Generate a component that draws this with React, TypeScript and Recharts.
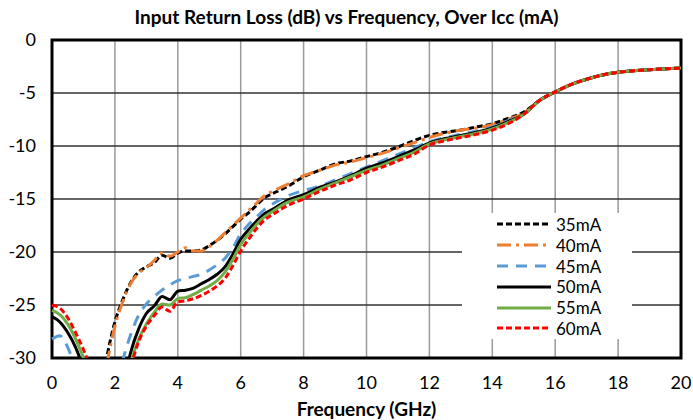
import { LineChart, Line, XAxis, YAxis, CartesianGrid, ReferenceArea, Label } from "recharts";

// frequency points (GHz)
const freqs = [
  0, 0.25, 0.5, 0.75, 1, 1.25, 1.5, 1.75, 2, 2.25, 2.5, 2.75, 3, 3.25, 3.5, 3.75, 4, 4.25, 4.5, 4.75,
  5, 5.25, 5.5, 5.75, 6, 6.25, 6.5, 6.75, 7, 7.5, 8, 8.5, 9, 9.5, 10, 10.5, 11, 11.5, 12, 12.5,
  13, 13.5, 14, 14.5, 15, 15.5, 16, 16.5, 17, 17.5, 18, 18.5, 19, 19.5, 20,
];

// shared high-frequency part (15.5 .. 20 GHz)
const tail = [-5.7, -4.9, -4.2, -3.7, -3.3, -3.05, -2.9, -2.8, -2.72, -2.65];

const ma35 = [
  -34, -36, -38, -40, -40, -38, -34, -29.8, -26.6, -24.5, -22.9, -21.9, -21.4, -21.0, -20.3, -20.6, -20.1, -19.9, -19.9, -19.8,
  -19.4, -18.9, -18.3, -17.6, -16.9, -16.3, -15.6, -14.9, -14.5, -13.8, -12.9, -12.3, -11.7, -11.4, -11.0, -10.6, -10.1, -9.5, -9.0, -8.7,
  -8.5, -8.2, -7.9, -7.4, -6.8, ...tail,
];
const ma40 = [
  -35, -37, -39, -41, -41, -39, -35, -30.5, -27.0, -24.7, -23.0, -22.0, -21.5, -20.8, -20.1, -20.4, -20.0, -19.6, -19.9, -19.9,
  -19.5, -18.9, -18.2, -17.5, -16.8, -16.1, -15.4, -14.7, -14.3, -13.6, -12.8, -12.3, -11.8, -11.5, -11.1, -10.7, -10.2, -9.7, -9.2, -8.8,
  -8.5, -8.3, -8.0, -7.5, -6.9, ...tail,
];
const ma45 = [
  -28.2, -27.9, -29.0, -31, -33, -36, -37, -36, -33, -30.2, -27.8, -26.0, -24.9, -24.2, -23.6, -23.1, -22.7, -22.5, -22.3, -22.1,
  -21.7, -21.2, -20.6, -19.6, -18.3, -17.4, -16.7, -16.0, -15.5, -14.7, -14.2, -13.8, -13.2, -12.6, -12.0, -11.4, -10.8, -10.2, -9.6, -9.2,
  -8.9, -8.6, -8.2, -7.6, -7.0, ...tail,
];
const ma50 = [
  -26.1, -26.6, -27.6, -29.0, -31, -33.5, -36, -38, -37, -33, -29.5, -27.3, -25.8, -25.1, -24.2, -24.5, -23.7, -23.6, -23.4, -23.0,
  -22.6, -22.1, -21.4, -20.2, -18.8, -17.9, -17.1, -16.4, -16.0, -15.1, -14.6, -13.9, -13.4, -12.8, -12.1, -11.6, -11.0, -10.4, -9.7, -9.3,
  -9.0, -8.7, -8.3, -7.7, -7.0, ...tail,
];
const ma55 = [
  -25.5, -25.9, -26.8, -28.2, -30.0, -32.3, -35, -37, -37, -34, -30.5, -28.3, -26.8, -25.7, -24.9, -25.0, -24.4, -24.3, -24.0, -23.6,
  -23.2, -22.7, -21.9, -20.7, -19.3, -18.3, -17.4, -16.7, -16.2, -15.3, -14.8, -14.1, -13.5, -12.9, -12.3, -11.8, -11.2, -10.6, -9.8, -9.4,
  -9.1, -8.8, -8.4, -7.8, -7.0, ...tail,
];
const ma60 = [
  -25.0, -25.3, -26.2, -27.6, -29.2, -31.2, -34, -36.5, -37, -35, -31, -28.5, -27.0, -26.0, -25.2, -25.6, -24.7, -24.6, -24.4, -24.1,
  -23.7, -23.2, -22.5, -21.3, -19.9, -18.8, -17.8, -17.0, -16.5, -15.6, -15.0, -14.3, -13.7, -13.2, -12.5, -12.0, -11.4, -10.8, -9.9, -9.5,
  -9.2, -8.9, -8.5, -7.9, -7.0, ...tail,
];

const xTicks = [0, 2, 4, 6, 8, 10, 12, 14, 16, 18, 20];
const yTicks = [0, -5, -10, -15, -20, -25, -30];

const series = [
  { key: "ma35", name: "35mA", values: ma35, color: "#000000", dash: "6 3" },
  { key: "ma40", name: "40mA", values: ma40, color: "#ED7D31", dash: "14 5 3 5" },
  { key: "ma45", name: "45mA", values: ma45, color: "#5B9BD5", dash: "11 8" },
  { key: "ma50", name: "50mA", values: ma50, color: "#000000", dash: undefined },
  { key: "ma55", name: "55mA", values: ma55, color: "#70AD47", dash: undefined },
  { key: "ma60", name: "60mA", values: ma60, color: "#FF0000", dash: "6 3" },
];

const data = freqs.map((f, i) => {
  const row: Record<string, number> = { f };
  series.forEach((s) => (row[s.key] = s.values[i]));
  return row;
});

const FONT = "Lato, 'Open Sans', sans-serif";

function LegendBox() {
  return (
    <div
      style={{
        position: "absolute",
        left: 462,
        top: 213,
        width: 170,
        height: 126,
        background: "#fff",
        paddingTop: 1,
        boxSizing: "border-box",
      }}
    >
      {series.map((s) => (
        <div key={s.key} style={{ display: "flex", alignItems: "center", height: 20.8 }}>
          <svg width={89} height={10}>
            <line x1={35} y1={5} x2={89} y2={5} stroke={s.color} strokeWidth={3} strokeDasharray={s.dash} />
          </svg>
          <span style={{ fontFamily: FONT, fontSize: 17, marginLeft: 5, color: "#000" }}>{s.name}</span>
        </div>
      ))}
    </div>
  );
}

export default function App() {
  return (
    <div style={{ position: "absolute", left: 0, top: 0, width: 693, height: 420, background: "#fff" }}>
      <div
        style={{
          position: "absolute",
          top: 5,
          width: 693,
          textAlign: "center",
          fontFamily: FONT,
          fontWeight: 700,
          fontSize: 19,
        }}
      >
        Input Return Loss (dB) vs Frequency, Over Icc (mA)
      </div>
      <LineChart width={693} height={420} data={data} margin={{ top: 40, right: 12, bottom: 4, left: 8 }}>
        <CartesianGrid horizontal={false} stroke="#9a9a9a" strokeWidth={1.5} />
        <CartesianGrid vertical={false} stroke="#333333" strokeWidth={1.5} />
        <XAxis
          dataKey="f"
          type="number"
          domain={[0, 20]}
          ticks={xTicks}
          height={58}
          tickLine={false}
          axisLine={false}
          tick={{ fill: "#000", fontSize: 18, fontFamily: FONT }}
          tickMargin={12}
        >
          <Label
            value="Frequency (GHz)"
            position="insideBottom"
            offset={0}
            style={{ fill: "#000", fontSize: 19, fontWeight: 700, fontFamily: FONT }}
          />
        </XAxis>
        <YAxis
          type="number"
          domain={[-30, 0]}
          ticks={yTicks}
          allowDataOverflow
          width={44}
          tickLine={false}
          axisLine={false}
          tick={{ fill: "#000", fontSize: 18, fontFamily: FONT }}
          tickMargin={10}
        />
        {series.map((s) => (
          <Line
            key={s.key}
            dataKey={s.key}
            name={s.name}
            type="monotone"
            stroke={s.color}
            strokeWidth={3}
            strokeDasharray={s.dash}
            dot={false}
            isAnimationActive={false}
          />
        ))}
        <ReferenceArea x1={0} x2={20} y1={-30} y2={0} fill="none" stroke="#000" strokeWidth={3} ifOverflow="visible" />
      </LineChart>
      <LegendBox />
    </div>
  );
}
